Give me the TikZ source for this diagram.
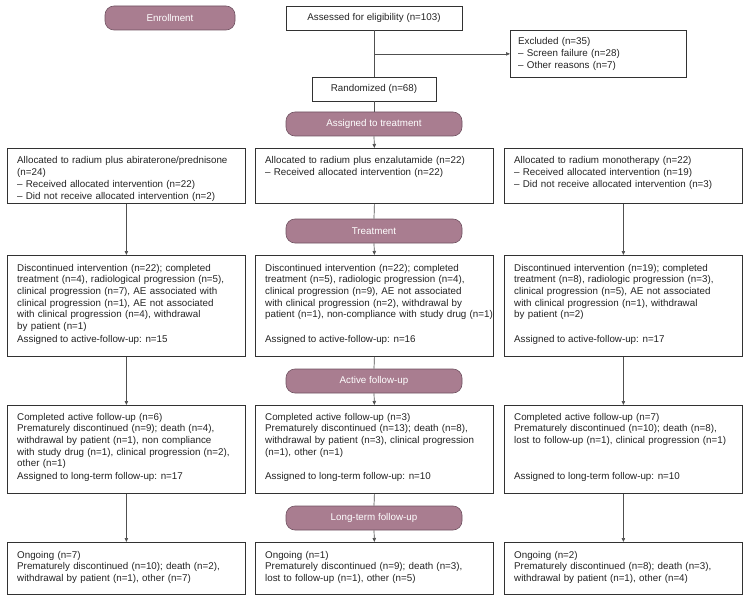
\documentclass[tikz,border=0pt]{standalone}
\usepackage{fontspec}
\setmainfont{Liberation Sans}
\usetikzlibrary{arrows.meta}
\definecolor{pillc}{RGB}{169,125,144}
\definecolor{pillb}{RGB}{112,82,97}
\definecolor{boxc}{RGB}{50,50,50}
\definecolor{linec}{RGB}{80,80,80}
\definecolor{txtc}{RGB}{35,35,35}
\tikzset{
  box/.style={draw=boxc, line width=0.8pt, inner sep=0pt, anchor=north west},
  cbox/.style={draw=boxc, line width=0.8pt, inner sep=0pt, text=txtc, font=\fontsize{9.8}{11.7}\selectfont},
  pill/.style={draw=pillb, fill=pillc, rounded corners=9pt, text=white, inner sep=0pt,
    line width=0.6pt, minimum height=24pt, font=\fontsize{9.8}{11.7}\selectfont},
  txt/.style={anchor=base west, inner sep=0pt, align=left, text=txtc,
    font=\fontsize{9.8}{11.7}\selectfont},
  arr/.style={draw=linec, line width=0.7pt, -{Triangle[length=4pt,width=3.4pt]}},
  ln/.style={draw=linec, line width=0.7pt},
}
\begin{document}
\begin{tikzpicture}[x=1pt,y=-1pt]
\useasboundingbox (0,0) rectangle (748,610);
% top part
\node[pill, minimum width=130pt] (enr) at (170,18) {Enrollment};
\node[cbox, minimum width=176pt, minimum height=24pt] (assess) at (374,18) {Assessed for eligibility (n=103)};
\node[box, minimum width=176pt, minimum height=47pt] (excl) at (510,30) {};
\node[txt, text width=166pt] (exclt) at ([shift={(8pt,-15pt)}]excl.north west)
  {Excluded (n=35)\\ – Screen failure (n=28)\\ – Other reasons (n=7)};
\node[cbox, minimum width=124pt, minimum height=24pt] (rand) at (374,89) {Randomized (n=68)};
\node[pill, minimum width=176pt] (assign) at (374,124) {Assigned to treatment};
\node[pill, minimum width=176pt] (treat) at (374,231) {Treatment};
\node[pill, minimum width=176pt] (active) at (374,381) {Active follow-up};
\node[pill, minimum width=176pt] (longt) at (374,518) {Long-term follow-up};
% row 1
\node[box, minimum width=238pt, minimum height=55pt] (a1) at (7,148) {};
\node[box, minimum width=238pt, minimum height=55pt] (b1) at (255,148) {};
\node[box, minimum width=238pt, minimum height=55pt] (c1) at (504,148) {};
\node[txt, text width=228pt] (a1t) at ([shift={(10pt,-16pt)}]a1.north west)
  {Allocated to radium plus abiraterone/prednisone\\ (n=24)\\ – Received allocated intervention (n=22)\\ – Did not receive allocated intervention (n=2)};
\node[txt, text width=228pt] (b1t) at ([shift={(10pt,-16pt)}]b1.north west)
  {Allocated to radium plus enzalutamide (n=22)\\ – Received allocated intervention (n=22)};
\node[txt, text width=228pt] (c1t) at ([shift={(10pt,-16pt)}]c1.north west)
  {Allocated to radium monotherapy (n=22)\\ – Received allocated intervention (n=19)\\ – Did not receive allocated intervention (n=3)};
% row 2
\node[box, minimum width=238pt, minimum height=101pt] (a2) at (7,255) {};
\node[box, minimum width=238pt, minimum height=101pt] (b2) at (255,255) {};
\node[box, minimum width=238pt, minimum height=101pt] (c2) at (504,255) {};
\node[txt, text width=228pt] (a2t) at ([shift={(10pt,-16pt)}]a2.north west)
  {Discontinued intervention (n=22); completed\\ treatment (n=4), radiological progression (n=5),\\ clinical progression (n=7), AE associated with\\ clinical progression (n=1), AE not associated\\ with clinical progression (n=4), withdrawal\\ by patient (n=1)};
\node[txt, text width=228pt] (b2t) at ([shift={(10pt,-16pt)}]b2.north west)
  {Discontinued intervention (n=22); completed\\ treatment (n=5), radiologic progression (n=4),\\ clinical progression (n=9), AE not associated\\ with clinical progression (n=2), withdrawal by\\ patient (n=1), non-compliance with study drug (n=1)};
\node[txt, text width=228pt] (c2t) at ([shift={(10pt,-16pt)}]c2.north west)
  {Discontinued intervention (n=19); completed\\ treatment (n=8), radiologic progression (n=3),\\ clinical progression (n=5), AE not associated\\ with clinical progression (n=1), withdrawal\\ by patient (n=2)};
\node[txt] (a2s) at ([shift={(10pt,14pt)}]a2.south west) {Assigned to active-follow-up: n=15};
\node[txt] (b2s) at ([shift={(10pt,14pt)}]b2.south west) {Assigned to active-follow-up: n=16};
\node[txt] (c2s) at ([shift={(10pt,14pt)}]c2.south west) {Assigned to active-follow-up: n=17};
% row 3
\node[box, minimum width=238pt, minimum height=88pt] (a3) at (7,405) {};
\node[box, minimum width=238pt, minimum height=88pt] (b3) at (255,405) {};
\node[box, minimum width=238pt, minimum height=88pt] (c3) at (504,405) {};
\node[txt, text width=228pt] (a3t) at ([shift={(10pt,-15pt)}]a3.north west)
  {Completed active follow-up (n=6)\\ Prematurely discontinued (n=9); death (n=4),\\ withdrawal by patient (n=1), non compliance\\ with study drug (n=1), clinical progression (n=2),\\ other (n=1)};
\node[txt, text width=228pt] (b3t) at ([shift={(10pt,-15pt)}]b3.north west)
  {Completed active follow-up (n=3)\\ Prematurely discontinued (n=13); death (n=8),\\ withdrawal by patient (n=3), clinical progression\\ (n=1), other (n=1)};
\node[txt, text width=228pt] (c3t) at ([shift={(10pt,-15pt)}]c3.north west)
  {Completed active follow-up (n=7)\\ Prematurely discontinued (n=10); death (n=8),\\ lost to follow-up (n=1), clinical progression (n=1)};
\node[txt] (a3s) at ([shift={(10pt,14pt)}]a3.south west) {Assigned to long-term follow-up: n=17};
\node[txt] (b3s) at ([shift={(10pt,14pt)}]b3.south west) {Assigned to long-term follow-up: n=10};
\node[txt] (c3s) at ([shift={(10pt,14pt)}]c3.south west) {Assigned to long-term follow-up: n=10};
% row 4
\node[box, minimum width=238pt, minimum height=52pt] (a4) at (7,542) {};
\node[box, minimum width=238pt, minimum height=52pt] (b4) at (255,542) {};
\node[box, minimum width=238pt, minimum height=52pt] (c4) at (504,542) {};
\node[txt, text width=228pt] (a4t) at ([shift={(10pt,-16pt)}]a4.north west)
  {Ongoing (n=7)\\ Prematurely discontinued (n=10); death (n=2),\\ withdrawal by patient (n=1), other (n=7)};
\node[txt, text width=228pt] (b4t) at ([shift={(10pt,-16pt)}]b4.north west)
  {Ongoing (n=1)\\ Prematurely discontinued (n=9); death (n=3),\\ lost to follow-up (n=1), other (n=5)};
\node[txt, text width=228pt] (c4t) at ([shift={(10pt,-16pt)}]c4.north west)
  {Ongoing (n=2)\\ Prematurely discontinued (n=8); death (n=3),\\ withdrawal by patient (n=1), other (n=4)};
% connectors
\draw[ln] (assess.south) -- (rand.north);
\draw[arr] (assess.south |- excl.west) -- (excl.west);
\draw[ln] (rand.south) -- (assign.north);
\draw[arr] (assign.south) -- (b1.north);
\draw[ln] (b1.south) -- (treat.north);
\draw[arr] (treat.south) -- (b2.north);
\draw[arr] (a1.south) -- (a2.north);
\draw[arr] (c1.south) -- (c2.north);
\draw[ln] (b2.south) -- (active.north);
\draw[arr] (active.south) -- (b3.north);
\draw[arr] (a2.south) -- (a3.north);
\draw[arr] (c2.south) -- (c3.north);
\draw[ln] (b3.south) -- (longt.north);
\draw[arr] (longt.south) -- (b4.north);
\draw[arr] (a3.south) -- (a4.north);
\draw[arr] (c3.south) -- (c4.north);
\end{tikzpicture}
\end{document}
